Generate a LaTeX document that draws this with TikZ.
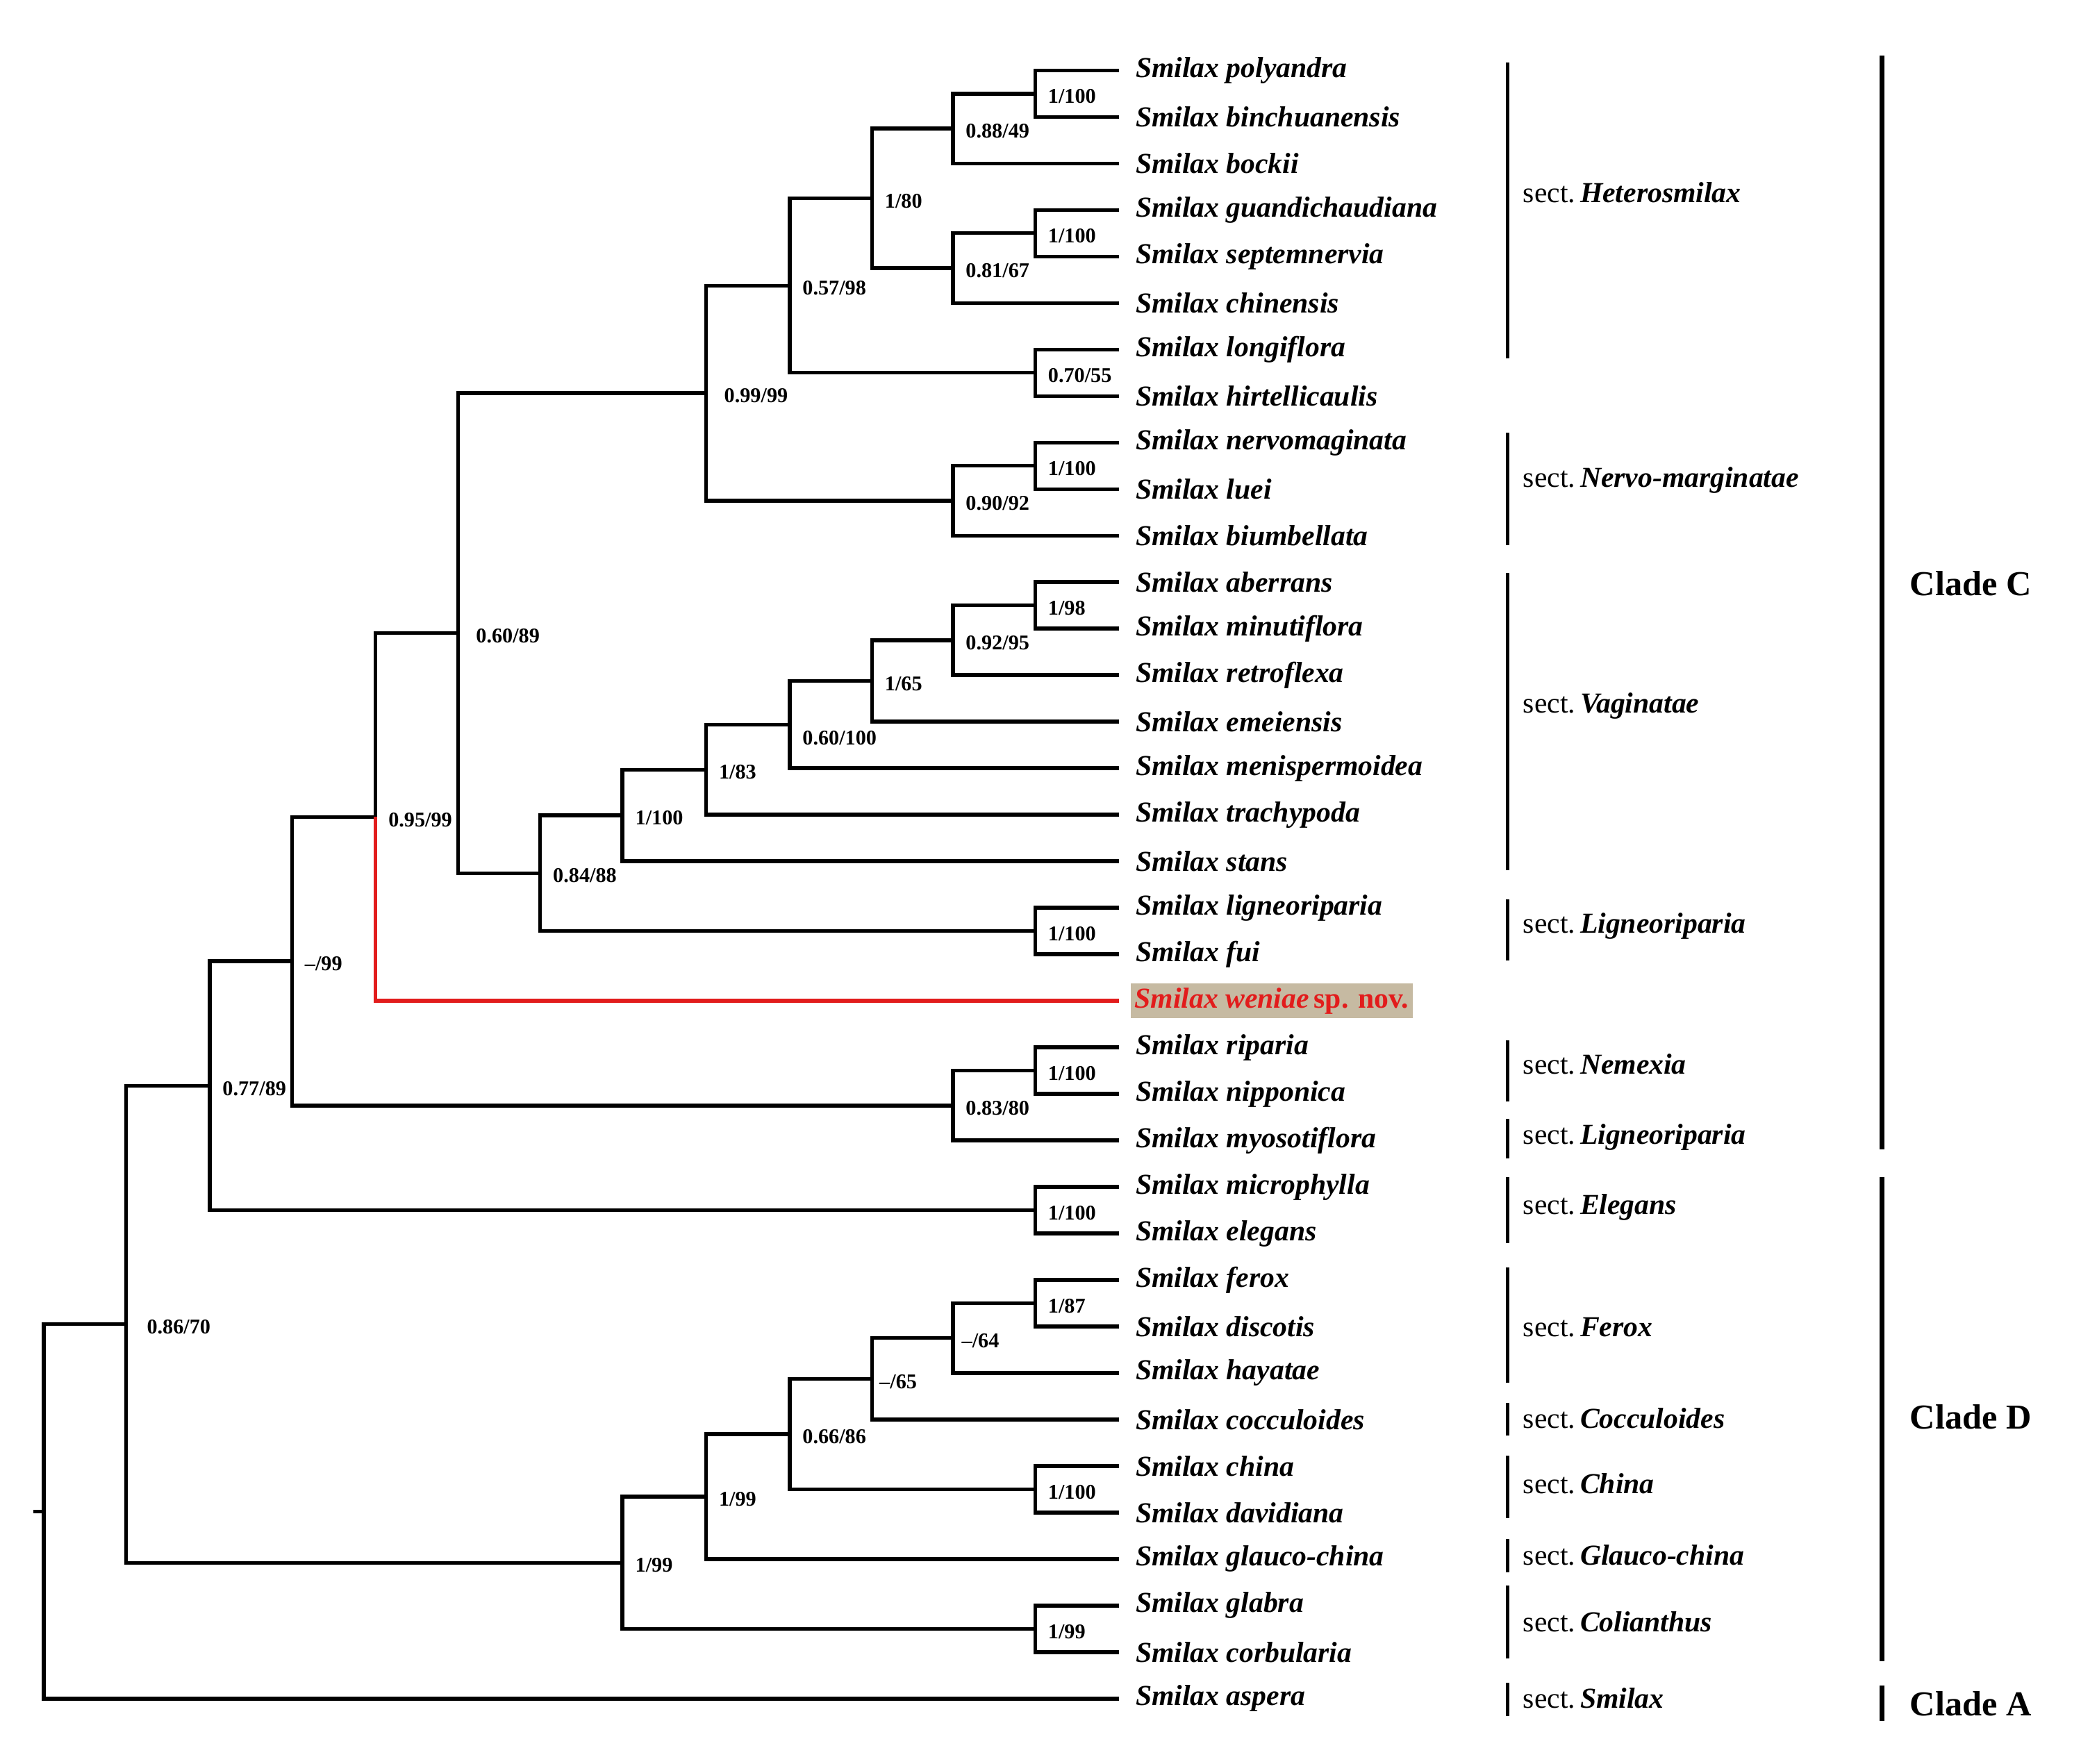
\documentclass[tikz,border=0pt]{standalone}
\usepackage{fontspec}
\setmainfont{Liberation Serif}
\usetikzlibrary{positioning}
\definecolor{novred}{RGB}{226,28,28}
\definecolor{novbg}{RGB}{198,186,162}
\newcommand{\sectlbl}[1]{sect.\,\textbf{\textit{#1}}}

\begin{document}
\begin{tikzpicture}[
x=0.01cm, y=-0.01cm,
tip/.style={
  anchor=west,
  inner xsep=0.12cm,
  inner ysep=0pt,
  font=\fontsize{6.2}{7}\selectfont\bfseries\itshape
},
bs/.style={
  inner sep=0pt,
  xshift=0.09cm,
  yshift=-0.02cm,
  font=\fontsize{4.5}{5}\selectfont\bfseries
},
branch/.style={line width=0.8pt},
bar/.style={line width=0.65pt},
cbar/.style={line width=1pt},
sect/.style={
  anchor=west,
  inner sep=0pt,
  font=\fontsize{6.2}{7}\selectfont
},
clade/.style={font=\fontsize{7.5}{8}\selectfont\bfseries}
]
\useasboundingbox (0,0) rectangle (1568,1329);

% tips
\foreach \i/\sp in {1/polyandra,2/binchuanensis,3/bockii,4/guandichaudiana,
  5/septemnervia,6/chinensis,7/longiflora,8/hirtellicaulis,9/nervomaginata,
  10/luei,11/biumbellata,12/aberrans,13/minutiflora,14/retroflexa,
  15/emeiensis,16/menispermoidea,17/trachypoda,18/stans,19/ligneoriparia,
  20/fui,22/riparia,23/nipponica,24/myosotiflora,25/microphylla,26/elegans,
  27/ferox,28/discotis,29/hayatae,30/cocculoides,31/china,32/davidiana,
  33/glauco-china,34/glabra,35/corbularia,36/aspera}
  \node[tip] (t\i) at (843,{53+35.06*(\i-1)}) {Smilax \sp};
\node[tip,outer xsep=0.09cm,inner xsep=0.03cm,inner ysep=0.025cm,
  text height=4.6pt,text depth=1.4pt,fill=novbg,text=novred] (t21)
  at (843,754.2) {Smilax weniae\,\upshape sp. nov.};

% internal nodes
\coordinate[label={[bs]right:1/100}] (a1) at (780,70.6);
\coordinate[label={[bs]right:0.88/49}] (a2) at (718,96.8);
\coordinate[label={[bs]right:1/100}] (a3) at (780,175.7);
\coordinate[label={[bs]right:0.81/67}] (a4) at (718,202);
\coordinate[label={[bs]right:1/80}] (a5) at (657,149.4);
\coordinate[label={[bs]right:0.70/55}] (a6) at (780,280.9);
\coordinate[label={[bs]right:0.57/98}] (a7) at (595,215.2);
\coordinate[label={[bs]right:1/100}] (a8) at (780,351);
\coordinate[label={[bs]right:0.90/92}] (a9) at (718,377.3);
\coordinate[label={[bs,xshift=0.04cm]right:0.99/99}] (a10) at (532,296.2);
\coordinate[label={[bs]right:1/98}] (b1) at (780,456.2);
\coordinate[label={[bs]right:0.92/95}] (b2) at (718,482.5);
\coordinate[label={[bs]right:1/65}] (b3) at (657,513.2);
\coordinate[label={[bs,yshift=-0.08cm]right:0.60/100}] (b4) at (595,546);
\coordinate[label={[bs]right:1/83}] (b5) at (532,580);
\coordinate[label={[bs]right:1/100}] (b6) at (469,614.5);
\coordinate[label={[bs]right:1/100}] (b7) at (780,701.6);
\coordinate[label={[bs]right:0.84/88}] (b8) at (407,658);
\coordinate[label={[bs,xshift=0.04cm]right:0.60/89}] (c1) at (345,477.1);
\coordinate[label={[bs]right:0.95/99}] (c2) at (283,615.7);
\coordinate[label={[bs]right:1/100}] (c3) at (780,806.8);
\coordinate[label={[bs]right:0.83/80}] (c4) at (718,833.1);
\coordinate[label={[bs]right:--/99}] (c5) at (220,724.4);
\coordinate[label={[bs]right:1/100}] (c6) at (780,912);
\coordinate[label={[bs]right:0.77/89}] (c7) at (158,818.2);
\coordinate[label={[bs]right:1/87}] (d1) at (780,982.1);
\coordinate[label={[bs,xshift=-0.03cm]right:--/64}] (d2) at (718,1008.4);
\coordinate[label={[bs,xshift=-0.04cm]right:--/65}] (d3) at (657,1039.1);
\coordinate[label={[bs]right:1/100}] (d4) at (780,1122.3);
\coordinate[label={[bs]right:0.66/86}] (d5) at (595,1080.7);
\coordinate[label={[bs]right:1/99}] (d6) at (532,1127.8);
\coordinate[label={[bs]right:1/99}] (d7) at (780,1227.5);
\coordinate[label={[bs]right:1/99}] (d8) at (469,1177.7);
\coordinate[label={[bs,xshift=0.06cm]right:0.86/70}] (r1) at (95,997.9);
\coordinate (rt) at (33,1139);
\coordinate (stub) at (25,1139);

% branches
\foreach \p/\c in {a1/t1.west,a1/t2.west,a2/a1,a2/t3.west,a3/t4.west,
  a3/t5.west,a4/a3,a4/t6.west,a5/a2,a5/a4,a6/t7.west,a6/t8.west,a7/a5,
  a7/a6,a8/t9.west,a8/t10.west,a9/a8,a9/t11.west,a10/a7,a10/a9,
  b1/t12.west,b1/t13.west,b2/b1,b2/t14.west,b3/b2,b3/t15.west,b4/b3,
  b4/t16.west,b5/b4,b5/t17.west,b6/b5,b6/t18.west,b7/t19.west,b7/t20.west,
  b8/b6,b8/b7,c1/a10,c1/b8,c2/c1,c3/t22.west,c3/t23.west,c4/c3,
  c4/t24.west,c5/c2,c5/c4,c6/t25.west,c6/t26.west,c7/c5,c7/c6,
  d1/t27.west,d1/t28.west,d2/d1,d2/t29.west,d3/d2,d3/t30.west,
  d4/t31.west,d4/t32.west,d5/d3,d5/d4,d6/d5,d6/t33.west,d7/t34.west,
  d7/t35.west,d8/d6,d8/d7,r1/c7,r1/d8,rt/r1,rt/t36.west}
  \draw[branch] (\p) |- (\c);
\draw[branch,novred] (c2) |- (t21.west);
\draw[branch] (stub) -- (rt);

% sections
\foreach \top/\bot/\ly/\nm [count=\k] in {47/270/145/Heterosmilax,
  326/411/362/Nervo-marginatae,432/656/532/Vaginatae,
  678/724/698/Ligneoriparia,784/830/802/Nemexia,843/873/857/Ligneoriparia,
  887/937/910/Elegans,955/1042/1000/Ferox,1057/1082/1069/Cocculoides,
  1097/1144/1118/China,1160/1185/1172/Glauco-china,
  1195/1250/1222/Colianthus,1268/1293/1280/Smilax}
{
  \draw[bar] (1136,\top) -- (1136,\bot);
  \node[sect] (s\k) at (1147,\ly) {\sectlbl{\nm}};
}

% clades
\draw[cbar] (1418,42) -- (1418,866);
\node[clade] (cC) at (1485,440) {Clade C};
\draw[cbar] (1418,887) -- (1418,1252);
\node[clade] (cD) at (1485,1068) {Clade D};
\draw[cbar] (1418,1270) -- (1418,1297);
\node[clade] (cA) at (1485,1284) {Clade A};
\end{tikzpicture}
\end{document}
